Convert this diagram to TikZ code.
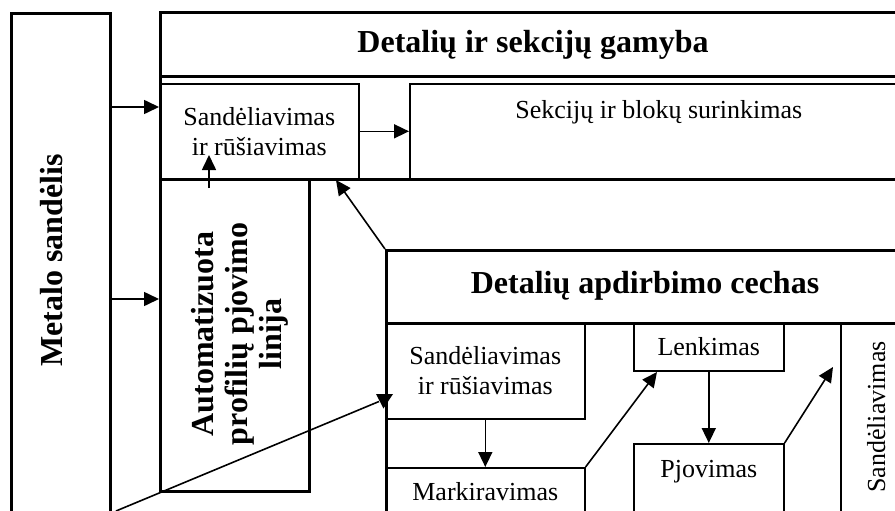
\documentclass[tikz,border=0pt]{standalone}
\usepackage{fontspec}
\setmainfont{Liberation Serif}
\usetikzlibrary{arrows.meta}
\newcommand\myreg{\fontsize{26}{30}\selectfont}
\newcommand\mybld{\fontsize{32}{34}\selectfont\bfseries}
\begin{document}
\begin{tikzpicture}[x=1pt,y=-1pt,
  thickbox/.style={draw, line width=3pt, inner sep=0pt, anchor=north west},
  thinbox/.style={draw, line width=1.6pt, inner sep=0pt, anchor=north west, font=\myreg},
  arr/.style={line width=1.6pt, -{Triangle[length=15pt,width=14pt]}},
  plain/.style={line width=1.6pt},
  bldtext/.style={font=\mybld, inner sep=0pt},
  regtext/.style={font=\myreg, inner sep=0pt}]
\useasboundingbox (0,0) rectangle (895,511);
\fill[white] (0,0) rectangle (895,511);
\clip (0,0) rectangle (895,511);

% left store
\node[thickbox, minimum width=99pt, minimum height=540pt] (metalo) at (10,12) {};
\node[bldtext, rotate=90, anchor=base] (metaloT) at (62,260.5) {Metalo sandėlis};

% production of parts and sections
\node[thickbox, minimum width=748pt, minimum height=167pt] (gamyba) at (159,11) {};
\node[thickbox, minimum width=748pt, minimum height=64pt] (gamybaH) at (159,11) {};
\node[bldtext, anchor=base] (gamybaT) at (533,53) {Detalių ir sekcijų gamyba};
\node[thinbox, align=center, minimum width=199pt, minimum height=95pt] (sand1) at (159,83) {Sandėliavimas\\ir rūšiavimas};
\node[thinbox, minimum width=498pt, minimum height=95pt, text height=35pt, text depth=60pt] (sekc) at (409,83) {Sekcijų ir blokų surinkimas};

% automatic line
\node[thickbox, minimum width=149pt, minimum height=312pt] (auto) at (159,178) {};
\node[bldtext, rotate=90, align=center] (autoT) at (240,334) {Automatizuota\\profilių pjovimo\\linija};

% processing shop
\node[thickbox, minimum width=520pt, minimum height=300pt] (apd) at (385,249) {};
\node[thickbox, minimum width=520pt, minimum height=73pt] (apdH) at (385,249) {};
\node[bldtext, anchor=base] (apdT) at (645,293) {Detalių apdirbimo cechas};
\node[thinbox, align=center, minimum width=199pt, minimum height=96pt] (sand2) at (385,322) {Sandėliavimas\\ir rūšiavimas};
\node[thinbox, minimum width=199pt, minimum height=80pt, text height=33pt, text depth=47pt] (mark) at (385,467) {Markiravimas};
\node[thinbox, minimum width=150pt, minimum height=48pt, text height=33pt, text depth=15pt] (lenk) at (633,322) {Lenkimas};
\node[thinbox, minimum width=150pt, minimum height=80pt, text height=34pt, text depth=46pt] (pjov) at (633,443) {Pjovimas};
\node[thinbox, minimum width=80pt, minimum height=230pt] (sand3) at (840,322) {};
\node[regtext, rotate=90, anchor=base] (sand3T) at (885,417) {Sandėliavimas};

% connectors
\coordinate (y1) at (0,107);
\coordinate (y2) at (0,299);
\draw[arr] (metalo.east |- y1) -- (sand1.west |- y1);
\draw[arr] (metalo.east |- y2) -- (auto.west |- y2);
\coordinate (a3s) at (209,188);
\coordinate (a3e) at (209,155);
\draw[arr] (a3s) -- (a3e);
\draw[arr] (sand1.east) -- (sekc.west);
\coordinate (a5e) at (336,180);
\draw[arr] (apd.north west) -- (a5e);
\coordinate (a6s) at (116,511);
\coordinate (a6e) at (379,401.5);
\draw[plain] (a6s) -- (a6e);
\fill (376,394) -- (393,394) -- (383.5,408.5) -- cycle;
\draw[arr] (sand2.south) -- (mark.north);
\coordinate (a8e) at (657,372);
\draw[arr] (mark.north east) -- (a8e);
\draw[arr] (lenk.south) -- (pjov.north);
\coordinate (a10e) at (833,367);
\draw[arr] (pjov.north east) -- (a10e);
\end{tikzpicture}
\end{document}
